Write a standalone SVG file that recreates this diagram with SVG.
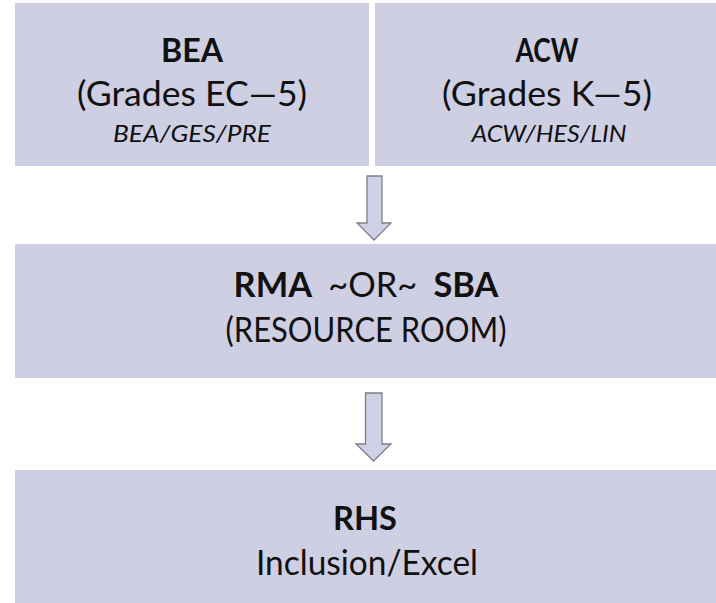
<svg xmlns="http://www.w3.org/2000/svg" width="716" height="603" viewBox="0 0 716 603">
  <style>
    .box { fill: #cfcfe4; }
    .arrow { fill: #d0d0e6; stroke: #7f7f86; stroke-width: 1.3; stroke-linejoin: miter; }
    text { font-family: "Lato", "Open Sans", "Liberation Sans", sans-serif; fill: #111; text-anchor: middle; }
    .title { font-weight: bold; font-size: 33px; }
    .main { font-size: 34px; }
    .sub { font-style: italic; font-size: 24px; }
  </style>
  <rect width="716" height="603" fill="#ffffff"/>

  <g id="node-bea">
    <rect class="box" x="15" y="3" width="354" height="163"/>
    <text class="title" x="192" y="62" textLength="62" lengthAdjust="spacingAndGlyphs">BEA</text>
    <text class="main" x="192" y="106" textLength="230" lengthAdjust="spacingAndGlyphs">(Grades EC—5)</text>
    <text class="sub" x="192" y="142" textLength="158" lengthAdjust="spacingAndGlyphs">BEA/GES/PRE</text>
  </g>

  <g id="node-acw">
    <rect class="box" x="375" y="3" width="341" height="163"/>
    <text class="title" x="547" y="62" textLength="63" lengthAdjust="spacingAndGlyphs">ACW</text>
    <text class="main" x="547" y="106" textLength="210" lengthAdjust="spacingAndGlyphs">(Grades K—5)</text>
    <text class="sub" x="549" y="142" textLength="155" lengthAdjust="spacingAndGlyphs">ACW/HES/LIN</text>
  </g>

  <g id="node-resource">
    <rect class="box" x="15" y="244" width="701" height="134"/>
    <text class="main" x="366" y="297" textLength="265" lengthAdjust="spacingAndGlyphs"><tspan font-weight="bold">RMA</tspan><tspan dx="16">~OR~</tspan><tspan dx="16" font-weight="bold">SBA</tspan></text>
    <text class="main" x="366" y="342" textLength="281" lengthAdjust="spacingAndGlyphs">(RESOURCE ROOM)</text>
  </g>

  <g id="node-rhs">
    <rect class="box" x="15" y="470" width="701" height="133"/>
    <text class="title" x="365" y="530" textLength="64" lengthAdjust="spacingAndGlyphs">RHS</text>
    <text class="main" x="367" y="575" textLength="222" lengthAdjust="spacingAndGlyphs">Inclusion/Excel</text>
  </g>

  <g id="connectors">
    <path class="arrow" d="M367,176 H382 V223 H391 L374,240 L357,223 H367 Z"/>
    <path class="arrow" d="M365.5,393 H382 V444 H391 L373.5,461 L356,444 H365.5 Z"/>
  </g>
</svg>
